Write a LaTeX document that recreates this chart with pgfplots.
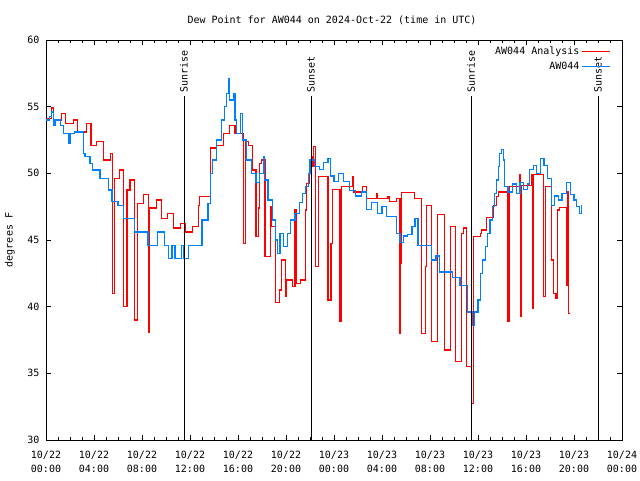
\documentclass[border=0pt]{standalone}
\usepackage{pgfplots}
\pgfplotsset{compat=1.18}
\usepackage{fontspec}
\setmainfont{DejaVu Sans Mono}
\begin{document}
\fontsize{10}{12}\selectfont
\begin{tikzpicture}[x=1pt,y=1pt,font=\fontsize{10}{12}\selectfont]
\fill[white] (0,0) rectangle (640,480);
\useasboundingbox (0,0) rectangle (640,480);
\node at (332,460) {Dew Point for AW044 on 2024-Oct-22 (time in UTC)};
\node[rotate=90] at (10,240) {degrees F};
\begin{axis}[
  at={(46pt,40pt)}, anchor=south west,
  scale only axis, width=576pt, height=400pt,
  xmin=0, xmax=48, ymin=30, ymax=60,
  xtick={0,4,...,48}, minor x tick num=3,
  ytick={30,35,...,60},
  xticklabels={{10/22\\00:00},{10/22\\04:00},{10/22\\08:00},{10/22\\12:00},{10/22\\16:00},{10/22\\20:00},{10/23\\00:00},{10/23\\04:00},{10/23\\08:00},{10/23\\12:00},{10/23\\16:00},{10/23\\20:00},{10/24\\00:00}},
  xticklabel style={align=center, font=\fontsize{10}{14}\selectfont, yshift=-8pt},
  yticklabel style={font=\fontsize{10}{12}\selectfont, xshift=-3pt},
  /pgf/number format/assume math mode=true,
  major tick length=5pt, minor tick length=3pt,
  tick style={black, line width=0.8pt},
  axis line style={line width=0.8pt},
  legend plot pos=right,
  legend cell align=right,
  legend style={draw=none, fill=none, at={(rel axis cs:0.985,0.992)}, anchor=north east,
    font=\fontsize{10}{12}\selectfont, row sep=2.5pt, nodes={inner sep=1.6pt}},
  legend image code/.code={\draw[#1] (0pt,0pt) -- (28pt,0pt);},
]
\addplot[const plot, draw=red, line width=1.1pt] coordinates {
(0,54.1)(0.45,54.9)(0.6,54.0)(1.3,54.5)(1.65,53.75)(2.3,54.0)(2.65,53.1)(3.4,53.75)(3.75,52.1)(4.2,52.4)(4.8,51.0)(5.4,51.5)(5.55,41.0)(5.7,49.6)(6.1,50.25)(6.45,40.0)(6.75,48.75)(7.0,49.5)(7.4,39.0)(7.65,47.75)(8.1,48.4)(8.55,38.1)(8.65,47.4)(9.2,48.0)(9.6,46.6)(10.15,47.0)(10.6,45.9)(11.2,46.25)(11.6,45.6)(12.2,46.0)(12.7,47.6)(12.8,48.25)(13.7,51.9)(14.2,52.1)(14.8,53.0)(15.3,53.6)(15.75,53.0)(16.45,44.75)(16.6,52.4)(16.9,52.1)(17.2,50.25)(17.5,45.25)(17.7,47.4)(17.8,50.75)(17.95,51.0)(18.25,43.75)(18.7,47.5)(18.8,46.0)(19.1,40.3)(19.45,41.25)(19.6,43.5)(19.95,40.75)(20.05,42.0)(20.55,41.5)(20.75,47.25)(20.9,41.75)(21.2,42.0)(21.6,47.25)(21.7,49.25)(21.95,50.5)(22.25,51.25)(22.3,52.0)(22.45,43.0)(22.7,49.75)(23.5,40.5)(23.75,44.75)(23.9,48.8)(24.5,38.9)(24.6,49.0)(25.55,49.75)(25.65,48.6)(26.4,49.0)(26.7,48.1)(27.55,48.5)(27.65,48.1)(28.5,48.25)(28.6,47.9)(29.2,48.1)(29.5,38.0)(29.55,43.25)(29.6,48.55)(30.7,48.1)(31.3,38.0)(31.6,43.0)(31.7,47.6)(32.1,37.4)(32.65,46.9)(33.2,36.75)(33.7,46.0)(34.1,35.9)(34.6,45.5)(34.8,45.9)(35.05,35.5)(35.45,32.75)(35.6,45.25)(36.2,45.5)(36.3,45.75)(36.7,46.7)(37.3,47.6)(37.55,48.25)(37.7,48.6)(38.5,38.9)(38.6,49.0)(39.5,49.9)(39.55,39.25)(39.65,49.1)(40.5,49.9)(40.55,39.9)(40.65,49.9)(41.45,40.75)(41.6,49.0)(42.1,43.5)(42.3,41.0)(42.5,40.6)(42.6,47.25)(42.8,47.45)(43.4,41.6)(43.5,48.6)(43.55,39.5)(43.6,39.5)
};
\addlegendentry{AW044 Analysis}
\addplot[const plot, draw={rgb,255:red,0;green,128;blue,255}, line width=1.1pt] coordinates {
(0,54.0)(0.3,54.25)(0.45,54.6)(0.6,53.6)(0.75,54.0)(1.2,53.6)(1.45,53.0)(1.85,52.25)(2.0,53.0)(2.4,53.1)(3.1,51.5)(3.25,51.25)(3.67,50.75)(3.9,50.25)(4.5,49.6)(5.2,48.75)(5.5,47.9)(6.0,47.6)(6.45,46.6)(7.4,45.6)(8.5,44.6)(9.3,45.6)(9.9,44.6)(10.2,43.6)(10.5,44.6)(10.75,43.6)(11.3,44.6)(11.5,43.6)(11.9,44.6)(13.0,46.5)(13.5,47.75)(13.7,50.0)(13.9,51.0)(14.2,52.5)(14.6,54.0)(14.9,55.0)(15.05,56.0)(15.2,57.1)(15.3,55.5)(15.6,56.0)(15.75,54.0)(15.9,53.0)(16.2,54.5)(16.35,52.5)(16.7,51.0)(17.1,50.0)(17.5,49.3)(17.8,50.0)(18.1,51.25)(18.2,49.5)(18.5,48.0)(18.9,46.5)(19.1,45.0)(19.3,44.0)(19.5,45.5)(19.8,44.5)(20.1,45.5)(20.4,46.5)(20.75,47.0)(21.1,47.8)(21.4,48.5)(21.6,49.0)(21.9,50.0)(22.0,51.0)(22.4,50.5)(22.8,50.3)(23.1,50.8)(23.5,51.1)(23.7,49.8)(24.0,49.4)(24.4,50.0)(24.8,49.4)(25.3,48.7)(25.8,48.3)(26.3,48.6)(26.7,47.3)(27.1,47.8)(27.6,47.0)(28.0,47.5)(28.4,46.75)(29.2,45.5)(29.5,44.8)(29.8,45.3)(30.1,45.4)(30.5,46.0)(30.75,46.6)(31.0,44.6)(32.1,43.5)(32.5,43.8)(32.8,42.6)(33.9,42.2)(34.5,41.6)(35.1,39.6)(35.5,38.6)(35.7,39.6)(36.0,40.5)(36.2,42.5)(36.4,43.5)(36.6,44.5)(36.8,45.5)(37.0,46.5)(37.2,47.5)(37.4,48.5)(37.55,49.5)(37.7,50.5)(37.8,51.5)(37.95,51.8)(38.1,51.0)(38.2,49.0)(38.5,48.6)(38.9,49.2)(39.2,48.5)(39.5,49.3)(39.8,48.8)(40.1,49.2)(40.3,50.3)(40.6,50.6)(40.9,50.0)(41.2,51.1)(41.5,50.6)(41.8,49.6)(42.1,47.6)(42.4,48.3)(42.7,48.0)(43.0,48.5)(43.4,49.3)(43.7,48.4)(44.0,48.0)(44.2,47.5)(44.45,47.0)(44.65,47.6)
};
\addlegendentry{AW044}
\addplot[black, line width=0.8pt, forget plot] coordinates {(11.5,30)(11.5,55.8)};
\addplot[black, line width=0.8pt, forget plot] coordinates {(22.08,30)(22.08,55.8)};
\addplot[black, line width=0.8pt, forget plot] coordinates {(35.42,30)(35.42,55.8)};
\addplot[black, line width=0.8pt, forget plot] coordinates {(46.0,30)(46.0,55.8)};
\node[rotate=90, anchor=west, inner sep=1pt] at (axis cs:11.5,56.0) {Sunrise};
\node[rotate=90, anchor=west, inner sep=1pt] at (axis cs:22.08,56.0) {Sunset};
\node[rotate=90, anchor=west, inner sep=1pt] at (axis cs:35.42,56.0) {Sunrise};
\node[rotate=90, anchor=west, inner sep=1pt] at (axis cs:46.0,56.0) {Sunset};
\end{axis}
\end{tikzpicture}
\end{document}
